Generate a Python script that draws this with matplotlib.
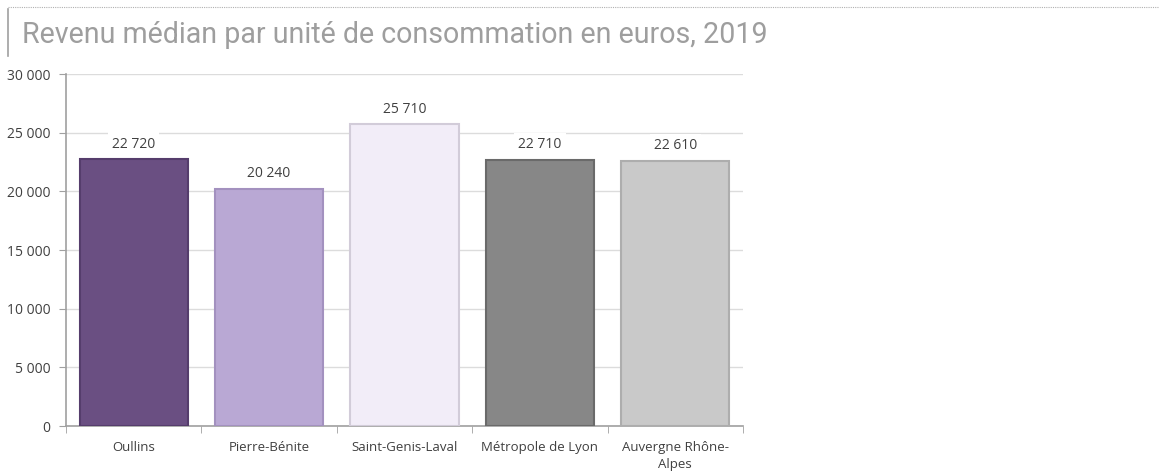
import matplotlib
matplotlib.use("Agg")
import matplotlib.pyplot as plt
from matplotlib.lines import Line2D
from matplotlib.ticker import FuncFormatter, FixedLocator

categories = ["Oullins", "Pierre-Bénite", "Saint-Genis-Laval", "Métropole de Lyon", "Auvergne Rhône-\nAlpes"]
values = [22720, 20240, 25710, 22710, 22610]
labels = ["22 720", "20 240", "25 710", "22 710", "22 610"]
colors = ["#6a4f82", "#b9a8d4", "#f2edf8", "#878787", "#c9c9c9"]
edges = ["#553d6c", "#a391bf", "#d2ccd9", "#6a6a6a", "#adadad"]
title = "Revenu médian par unité de consommation en euros, 2019"

W, H = 1159, 473
fig = plt.figure(figsize=(W / 100, H / 100), dpi=100)
fig.patch.set_facecolor("white")

# decorations: dotted top line and left vertical bar
fig.add_artist(Line2D([8 / W, 1.0], [1 - 7 / H, 1 - 7 / H], color="#b0b0b0", lw=0.8,
                      linestyle=(0, (1, 1)), transform=fig.transFigure))
fig.add_artist(Line2D([8 / W, 8 / W], [1 - 9 / H, 1 - 56 / H], color="#a0a0a0", lw=1.2,
                      transform=fig.transFigure))
fig.text(22 / W, 1 - 35 / H, title, fontsize=20.6, color="#9e9e9e", family="Roboto",
         fontweight="normal", va="center", ha="left")

ax = fig.add_axes([66 / W, 1 - 426 / H, (743 - 66) / W, (426 - 74) / H])
x = list(range(len(categories)))
ax.bar(x, values, width=0.8, color=colors, edgecolor=edges, linewidth=1.5, zorder=3)

ax.set_xlim(-0.5, len(categories) - 0.5)
ax.set_ylim(0, 30000)
ax.set_yticks(range(0, 30001, 5000))
ax.yaxis.set_major_formatter(FuncFormatter(lambda v, p: f"{int(v):,}".replace(",", " ")))
ax.set_xticks(x)
ax.set_xticklabels(categories, fontsize=9.5, color="#404040", family="Open Sans",
                   linespacing=1.35)
ax.tick_params(axis="x", which="major", length=0, pad=11)
ax.xaxis.set_minor_locator(FixedLocator([i - 0.5 for i in range(len(categories) + 1)]))
ax.tick_params(axis="x", which="minor", length=5, color="#a0a0a0", direction="out")
ax.tick_params(axis="y", length=5, color="#a0a0a0", labelsize=10, labelcolor="#404040", pad=6)
for lab in ax.get_yticklabels():
    lab.set_family("Open Sans")

ax.grid(axis="y", color="#dcdcdc", lw=1, zorder=0)
for s in ["top", "right"]:
    ax.spines[s].set_visible(False)
for s in ["left", "bottom"]:
    ax.spines[s].set_color("#a0a0a0")
    ax.spines[s].set_linewidth(1.2)

for xi, v, t in zip(x, values, labels):
    ax.annotate(t, (xi, v), xytext=(0, 11), textcoords="offset points", ha="center", va="center",
                fontsize=10, color="#404040", family="Open Sans", zorder=2,
                bbox=dict(boxstyle="square,pad=0.3", fc="white", ec="none"))

fig.savefig("out.png", dpi=100, facecolor="white")
